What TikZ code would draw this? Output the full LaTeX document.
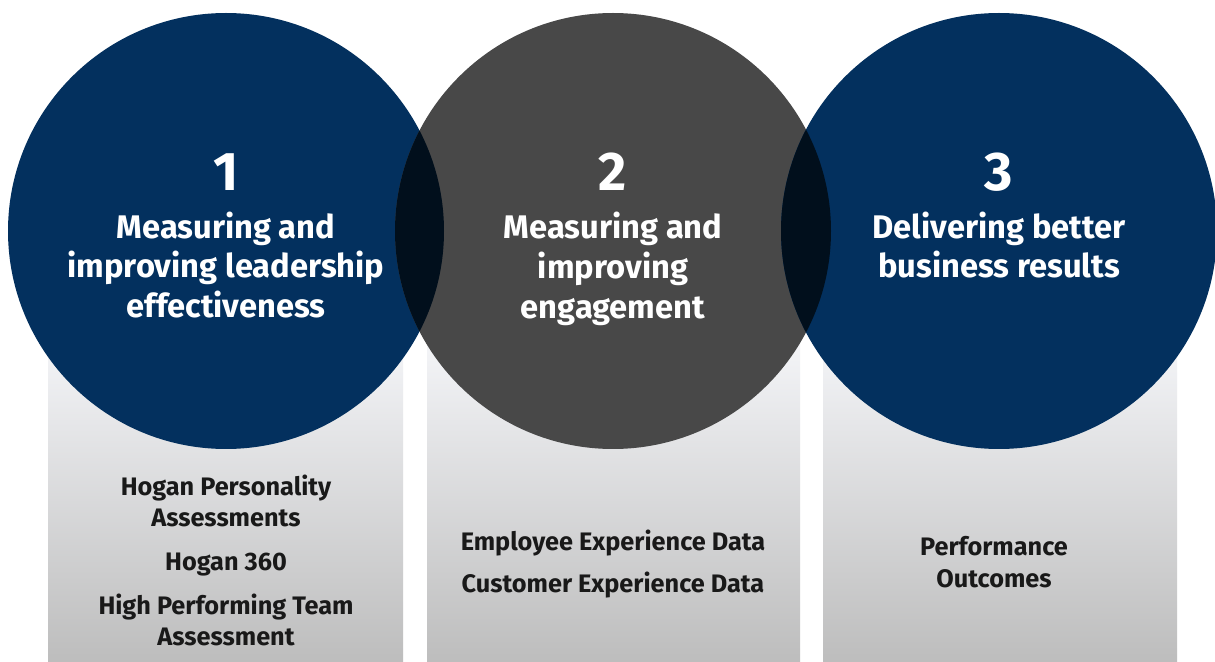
\documentclass[tikz,border=0pt]{standalone}
\usepackage{fontspec}
\setmainfont{Fira Sans}
\usetikzlibrary{positioning}
\definecolor{navy}{HTML}{03305E}
\definecolor{charcoal}{HTML}{484848}
\definecolor{lens}{HTML}{010F1C}
\definecolor{paletop}{HTML}{F4F5F8}
\definecolor{palebot}{HTML}{BDBDBD}
\tikzset{
  column/.style={top color=paletop,bottom color=palebot,draw=none},
  bignum/.style={text=white,font=\bfseries\fontsize{31}{36}\selectfont},
  heading/.style={text=white,align=center,font=\bfseries\fontsize{18.6}{22.7}\selectfont},
  item/.style={text=black!90,align=center,font=\bfseries\fontsize{14.4}{18}\selectfont}
}
\begin{document}
\begin{tikzpicture}[x=0.02cm,y=-0.02cm]
    \useasboundingbox[fill=white] (0,0) rectangle (1215,662);
    % columns below the circles
    \fill[column] (48,340) rectangle (403,662);
    \fill[column] (427,340) rectangle (800,662);
    \fill[column] (823,340) rectangle (1177,662);
    % circles
    \fill[navy] (226,231) circle (218);
    \fill[charcoal] (613,231) circle (218);
    \fill[navy] (999,231) circle (218);
    % overlaps
    \begin{scope}
        \clip (226,231) circle (218);
        \fill[lens] (613,231) circle (218);
    \end{scope}
    \begin{scope}
        \clip (999,231) circle (218);
        \fill[lens] (613,231) circle (218);
    \end{scope}
    % headings
    \node[bignum] (n1) at (226,172) {1};
    \node[heading] (h1) at (226,265) {Measuring and\\improving leadership\\effectiveness};
    \node[bignum] (n2) at (613,172) {2};
    \node[heading] (h2) at (613,269) {Measuring and\\improving\\engagement};
    \node[bignum] (n3) at (999,172) {3};
    \node[heading] (h3) at (999,245) {Delivering better\\business results};
    % items
    \node[item] (a1) at (226,501) {Hogan Personality\\Assessments};
    \node[item] (a2) at (226,565) {Hogan 360};
    \node[item] (a3) at (226,620) {High Performing Team\\Assessment};
    \node[item] (b1) at (613,543) {Employee Experience Data};
    \node[item] (b2) at (613,585) {Customer Experience Data};
    \node[item] (c1) at (994,562) {Performance\\Outcomes};
\end{tikzpicture}
\end{document}
